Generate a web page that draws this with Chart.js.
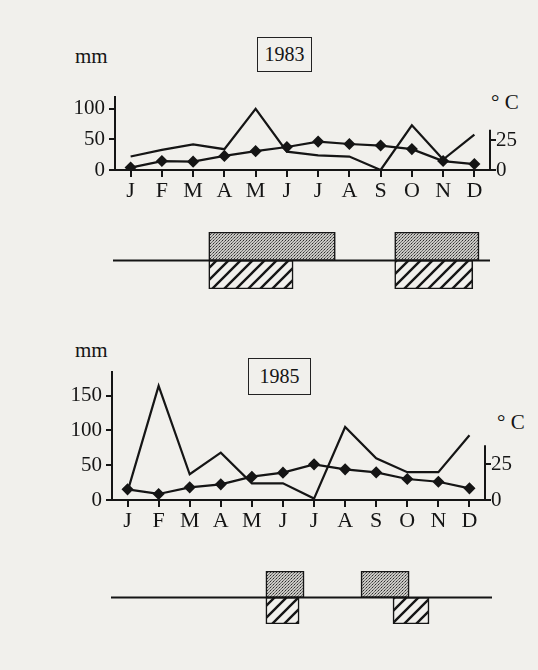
<!DOCTYPE html>
<html>
<head>
<meta charset="utf-8">
<script src="https://cdn.jsdelivr.net/npm/chart.js@4/dist/chart.umd.min.js"></script>
<style>
    html, body { margin: 0; padding: 0; }
    body {
        width: 538px; height: 670px; position: relative; overflow: hidden;
        background: #f1f0ec;
        font-family: 'Liberation Serif', serif; color: #151515;
    }
    canvas { position: absolute; left: 0; }
    .lbl { position: absolute; font-size: 21px; line-height: 21px; white-space: nowrap; }
    .yearbox {
        position: absolute; box-sizing: border-box; border: 1.5px solid #222;
        font-size: 20px; display: flex; align-items: center; justify-content: center;
    }
</style>
</head>
<body>
<div class="lbl" style="left:75px; top:46px;">mm</div>
<div class="yearbox" style="left:257px; top:37px; width:55px; height:35px;">1983</div>
<div class="lbl" style="left:491px; top:92px;">° C</div>
<canvas id="rain1983" width="538" height="120" style="top:80px"></canvas>
<canvas id="period1983" width="538" height="70" style="top:225px"></canvas>

<div class="lbl" style="left:75px; top:340px;">mm</div>
<div class="yearbox" style="left:248px; top:358px; width:63px; height:37px;">1985</div>
<div class="lbl" style="left:497px; top:412px;">° C</div>
<canvas id="rain1985" width="538" height="200" style="top:330px"></canvas>
<canvas id="period1985" width="538" height="75" style="top:560px"></canvas>

<script>
/* ============================================
   DATA
   ============================================ */
const months = ['J', 'F', 'M', 'A', 'M', 'J', 'J', 'A', 'S', 'O', 'N', 'D'];

const rain1983 = [22, 33, 42, 34, 100, 30, 24, 22, 0, 73, 17, 58];
const temp1983 = [2, 7.5, 7, 11.8, 15.8, 19.3, 23.8, 21.8, 20.5, 17.5, 7.5, 5];
const rain1985 = [12, 164, 37, 68, 24, 24, 2, 105, 60, 40, 40, 93];
const temp1985 = [7.4, 4.2, 8.8, 10.9, 16.2, 19, 24.8, 21.3, 19.2, 14.6, 12.7, 8.1];

const mmTicks1983 = [0, 50, 100];
const mmTicks1985 = [0, 50, 100, 150];
const degTicks = [0, 25];

// periods, in month units (0 = January)
const dotted1983 = [[2.5, 6.55], [8.45, 11.15]];
const hatched1983 = [[2.5, 5.2], [8.45, 10.95]];
const dotted1985 = [[4.45, 5.68], [7.51, 9.06]];
const hatched1985 = [[4.45, 5.52], [8.54, 9.7]];

/* ============================================
   SHARED STYLE
   ============================================ */
const INK = '#151515';
const FONT = { family: "'Liberation Serif', serif", size: 21 };
const MONTH_FONT = { family: "'Liberation Serif', serif", size: 22 };
Chart.defaults.color = INK;
Chart.defaults.font.family = FONT.family;

function makeDots() {
    const c = document.createElement('canvas');
    c.width = 3; c.height = 3;
    const g = c.getContext('2d');
    g.fillStyle = '#c9c8c4';
    g.fillRect(0, 0, 3, 3);
    g.fillStyle = '#2e2e2e';
    g.fillRect(0, 0, 1, 1);
    g.fillStyle = '#6e6e6c';
    g.fillRect(2, 1, 1, 1);
    g.fillRect(1, 2, 1, 1);
    return g.createPattern(c, 'repeat');
}

function makeHatch() {
    const s = 12;
    const c = document.createElement('canvas');
    c.width = s; c.height = s;
    const g = c.getContext('2d');
    g.fillStyle = '#f1f0ec';
    g.fillRect(0, 0, s, s);
    g.strokeStyle = INK;
    g.lineWidth = 2.4;
    g.beginPath();
    g.moveTo(-2, s + 2); g.lineTo(s + 2, -2);
    g.moveTo(-2, 2); g.lineTo(2, -2);
    g.moveTo(s - 2, s + 2); g.lineTo(s + 2, s - 2);
    g.stroke();
    return g.createPattern(c, 'repeat');
}

// draws x baseline and the short right (°C) axis
const axisLines = {
    id: 'axisLines',
    afterDraw(chart, args, opts) {
        const { ctx, chartArea, scales } = chart;
        const y0 = scales.y.getPixelForValue(0);
        ctx.save();
        ctx.strokeStyle = INK;
        ctx.lineWidth = 2;
        ctx.beginPath();
        ctx.moveTo(chartArea.left - 6, y0);
        ctx.lineTo(chartArea.right + 3, y0);
        ctx.moveTo(chartArea.right, scales.y1.getPixelForValue(0));
        ctx.lineTo(chartArea.right, scales.y1.getPixelForValue(opts.degTop));
        ctx.stroke();
        ctx.restore();
    }
};

// horizontal rule through the middle of the period strip
const midRule = {
    id: 'midRule',
    beforeDatasetsDraw(chart, args, opts) {
        const { ctx, chartArea } = chart;
        const y = (chartArea.top + chartArea.bottom) / 2;
        ctx.save();
        ctx.strokeStyle = INK;
        ctx.lineWidth = 1.8;
        ctx.beginPath();
        ctx.moveTo(chartArea.left + opts.from, y);
        ctx.lineTo(chartArea.right + opts.to, y);
        ctx.stroke();
        ctx.restore();
    }
};

/* ============================================
   CLIMATE CHART (rain + temperature)
   ============================================ */
function climateChart(id, rain, temp, mmTicks, opt) {
    return new Chart(document.getElementById(id), {
        type: 'line',
        data: {
            labels: months,
            datasets: [{
                label: 'mm',
                data: rain,
                yAxisID: 'y',
                borderColor: INK,
                borderWidth: 2.2,
                pointRadius: 0,
                tension: 0
            }, {
                label: '°C',
                data: temp,
                yAxisID: 'y1',
                borderColor: INK,
                backgroundColor: INK,
                borderWidth: 2.2,
                pointStyle: 'rectRot',
                pointRadius: 4.5,
                tension: 0
            }]
        },
        options: {
            responsive: false,
            animation: false,
            layout: { padding: { top: opt.padTop, left: 0, right: 0, bottom: 0 } },
            plugins: {
                legend: { display: false },
                tooltip: { enabled: false },
                axisLines: { degTop: opt.degTop }
            },
            scales: {
                x: {
                    offset: true,
                    grid: { offset: false, drawOnChartArea: false, drawTicks: true, tickLength: 7, color: INK, lineWidth: 2 },
                    border: { display: false },
                    ticks: { font: MONTH_FONT, padding: 1, maxRotation: 0, autoSkip: false },
                    afterFit: s => { s.height = 30; }
                },
                y: {
                    position: 'left',
                    min: 0, max: opt.mmMax,
                    afterBuildTicks: s => { s.ticks = mmTicks.map(v => ({ value: v })); },
                    grid: { drawOnChartArea: false, drawTicks: true, tickLength: 6, color: INK, lineWidth: 2 },
                    border: { display: true, color: INK, width: 2 },
                    ticks: { font: FONT, padding: 4 },
                    afterFit: s => { s.width = opt.left; }
                },
                y1: {
                    position: 'right',
                    min: 0, max: opt.degMax,
                    afterBuildTicks: s => { s.ticks = degTicks.map(v => ({ value: v })); },
                    grid: { drawOnChartArea: false, drawTicks: true, tickLength: 6, color: INK, lineWidth: 2 },
                    border: { display: false },
                    ticks: { font: FONT, padding: 0 },
                    afterFit: s => { s.width = 538 - opt.right; }
                }
            }
        },
        plugins: [axisLines]
    });
}

/* ============================================
   PERIOD STRIP (dotted above, hatched below)
   ============================================ */
function periodChart(id, dotted, hatched, opt) {
    const toData = (list, row) => list.map(p => ({ x: p, y: row }));
    return new Chart(document.getElementById(id), {
        type: 'bar',
        data: {
            labels: ['upper', 'lower'],
            datasets: [{
                label: 'dotted',
                data: toData(dotted, 'upper'),
                backgroundColor: makeDots(),
                borderColor: INK,
                borderWidth: 1.6,
                borderSkipped: false,
                grouped: false,
                barPercentage: 1,
                categoryPercentage: 1
            }, {
                label: 'hatched',
                data: toData(hatched, 'lower'),
                backgroundColor: makeHatch(),
                borderColor: INK,
                borderWidth: 1.6,
                borderSkipped: false,
                grouped: false,
                barPercentage: 1,
                categoryPercentage: 1
            }]
        },
        options: {
            indexAxis: 'y',
            responsive: false,
            animation: false,
            layout: { padding: { top: opt.padTop, bottom: opt.padBottom, left: opt.left, right: 538 - opt.right } },
            plugins: {
                legend: { display: false },
                tooltip: { enabled: false },
                midRule: { from: opt.from, to: opt.to }
            },
            scales: {
                x: { type: 'linear', min: -0.5, max: 11.5, display: false },
                y: { type: 'category', display: false }
            }
        },
        plugins: [midRule]
    });
}

/* ============================================
   BUILD
   ============================================ */
climateChart('rain1983', rain1983, temp1983, mmTicks1983,
    { padTop: 8, left: 115, right: 490, mmMax: 120, degMax: 61.5, degTop: 33.7 });
periodChart('period1983', dotted1983, hatched1983,
    { padTop: 7, padBottom: 6, left: 115, right: 490, from: -2, to: 0 });

climateChart('rain1985', rain1985, temp1985, mmTicks1985,
    { padTop: 42, left: 112, right: 485, mmMax: 184, degMax: 89, degTop: 38 });
periodChart('period1985', dotted1985, hatched1985,
    { padTop: 11, padBottom: 11, left: 112, right: 485, from: -1, to: 7 });
</script>
</body>
</html>
